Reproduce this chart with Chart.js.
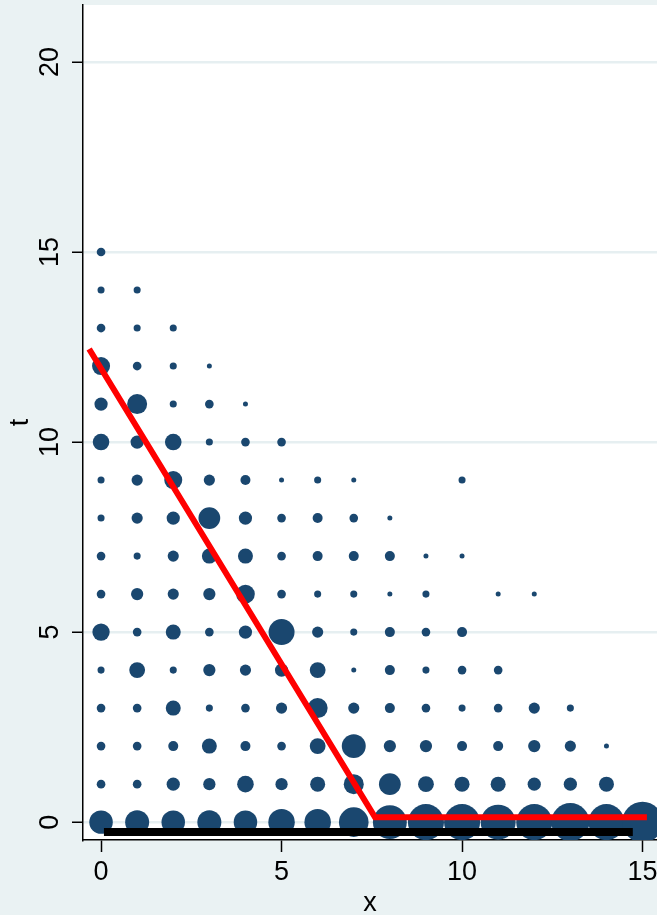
<!DOCTYPE html>
<html>
<head>
<meta charset="utf-8">
<script src="https://cdn.jsdelivr.net/npm/chart.js@4.4.1/dist/chart.umd.min.js"></script>
<style>
  html, body { margin: 0; padding: 0; background: #eaf2f3; }
  #wrap { width: 657px; height: 915px; }
</style>
</head>
<body>
<div id="wrap"><canvas id="chart" width="657" height="915"></canvas></div>
<script>
// categories
const xValues = [0, 1, 2, 3, 4, 5, 6, 7, 8, 9, 10, 11, 12, 13, 14, 15];
const tValues = [0, 1, 2, 3, 4, 5, 6, 7, 8, 9, 10, 11, 12, 13, 14, 15];

// frequency of each (x, t) pair, one row per t, one column per x (0 = no obs.)
const freq = [
  [22, 23, 22, 23, 22, 28, 28, 35, 46, 52, 52, 49, 52, 58, 52, 67], // t = 0
  [3, 3, 7, 6, 11, 6, 9, 16, 19, 10, 9, 9, 7, 7, 9, 0],
  [3, 3, 4, 9, 4, 3, 10, 23, 6, 6, 4, 4, 6, 5, 1, 0],
  [3, 3, 9, 2, 3, 5, 16, 5, 4, 3, 2, 3, 5, 2, 0, 0],
  [2, 10, 2, 6, 5, 7, 10, 1, 4, 2, 3, 3, 0, 0, 0, 0],
  [12, 3, 9, 3, 7, 27, 5, 2, 4, 3, 4, 0, 0, 0, 0, 0],
  [3, 6, 5, 6, 14, 3, 2, 2, 1, 2, 0, 1, 1, 0, 0, 0],
  [3, 2, 5, 9, 9, 3, 4, 4, 4, 1, 1, 0, 0, 0, 0, 0],
  [2, 5, 7, 19, 7, 3, 4, 3, 1, 0, 0, 0, 0, 0, 0, 0],
  [2, 5, 13, 5, 4, 1, 2, 1, 0, 0, 2, 0, 0, 0, 0, 0],
  [11, 7, 11, 2, 3, 3, 0, 0, 0, 0, 0, 0, 0, 0, 0, 0],
  [7, 16, 2, 3, 1, 0, 0, 0, 0, 0, 0, 0, 0, 0, 0, 0],
  [13, 3, 2, 1, 0, 0, 0, 0, 0, 0, 0, 0, 0, 0, 0, 0],
  [3, 2, 2, 0, 0, 0, 0, 0, 0, 0, 0, 0, 0, 0, 0, 0],
  [2, 2, 0, 0, 0, 0, 0, 0, 0, 0, 0, 0, 0, 0, 0, 0],
  [3, 0, 0, 0, 0, 0, 0, 0, 0, 0, 0, 0, 0, 0, 0, 0]      // t = 15
];

// fitted line (red) and baseline (black)
const fitX = [-0.33, 7.59, 15.12];
const fitY = [12.45, 0.13, 0.13];
const baseX = [0.08, 14.73];
const baseY = [-0.26, -0.26];

// axis ticks
const xTicks = [0, 5, 10, 15];
const yTicks = [0, 5, 10, 15, 20];

const outerBg = '#eaf2f3';
const gridCol = '#e6eff1';
const navy = '#1a476f';
const fontFam = '"Liberation Sans", Arial, sans-serif';

const bubbles = [];
tValues.forEach((t, i) => {
  xValues.forEach((x, j) => {
    const n = freq[i][j];
    if (n > 0) bubbles.push({ x: x, y: t, n: n });
  });
});

const bgPlugin = {
  id: 'bg',
  beforeDraw(chart) {
    const { ctx, chartArea: a } = chart;
    ctx.save();
    ctx.fillStyle = outerBg;
    ctx.fillRect(0, 0, chart.width, chart.height);
    ctx.fillStyle = '#ffffff';
    ctx.fillRect(a.left, a.top, a.right - a.left, a.bottom - a.top);
    ctx.restore();
  }
};

// stata style: y tick labels rotated
const yLabels = {
  id: 'yLabels',
  afterDraw(chart) {
    const s = chart.scales.y;
    const ctx = chart.ctx;
    ctx.save();
    ctx.font = '27px ' + fontFam;
    ctx.fillStyle = '#000';
    ctx.textAlign = 'center';
    ctx.textBaseline = 'middle';
    s.ticks.forEach(tk => {
      ctx.save();
      ctx.translate(chart.chartArea.left - 32, s.getPixelForValue(tk.value));
      ctx.rotate(-Math.PI / 2);
      ctx.fillText(String(tk.value), 0, 0);
      ctx.restore();
    });
    ctx.restore();
  }
};

new Chart(document.getElementById('chart').getContext('2d'), {
  type: 'bubble',
  data: {
    datasets: [
      {
        type: 'line',
        data: fitX.map((v, i) => ({ x: v, y: fitY[i] })),
        borderColor: '#ff0000',
        borderWidth: 6,
        pointRadius: 0,
        borderCapStyle: 'butt',
        borderJoinStyle: 'miter',
        order: 0
      },
      {
        type: 'line',
        data: baseX.map((v, i) => ({ x: v, y: baseY[i] })),
        borderColor: '#000000',
        borderWidth: 8,
        pointRadius: 0,
        borderCapStyle: 'butt',
        order: 1
      },
      {
        data: bubbles.map(p => ({ x: p.x, y: p.y, r: 2.5 * Math.sqrt(p.n) })),
        backgroundColor: navy,
        borderColor: navy,
        borderWidth: 0,
        order: 2
      }
    ]
  },
  options: {
    responsive: false,
    animation: false,
    layout: { autoPadding: false, padding: { top: 5, right: 0, left: 0, bottom: 0 } },
    plugins: { legend: { display: false }, tooltip: { enabled: false } },
    scales: {
      x: {
        type: 'linear',
        min: -0.5,
        max: 15.4,
        afterBuildTicks: s => { s.ticks = xTicks.map(v => ({ value: v })); },
        afterFit: s => { s.height = 75; s.paddingLeft = 0; s.paddingRight = 0; },
        border: { color: '#000', width: 1.5 },
        grid: { drawOnChartArea: false, drawTicks: true, tickLength: 12, tickColor: '#000', tickWidth: 1.5 },
        ticks: { color: '#000', font: { family: fontFam, size: 27 }, padding: 4, autoSkip: false, maxRotation: 0, minRotation: 0 },
        title: { display: true, text: 'x', color: '#000', font: { family: fontFam, size: 27 }, padding: { top: 0, bottom: -5 } }
      },
      y: {
        type: 'linear',
        min: -0.47,
        max: 21.5,
        afterBuildTicks: s => { s.ticks = yTicks.map(v => ({ value: v })); },
        afterFit: s => { s.width = 83; s.paddingTop = 0; s.paddingBottom = 0; },
        border: { color: '#000', width: 1.5 },
        grid: { color: gridCol, lineWidth: 2.5, drawTicks: true, tickLength: 11, tickColor: '#000', tickWidth: 1.5 },
        ticks: { display: false },
        title: { display: true, text: 't', color: '#000', font: { family: fontFam, size: 27 }, padding: { top: 4, bottom: 0 } }
      }
    }
  },
  plugins: [bgPlugin, yLabels]
});
</script>
</body>
</html>
